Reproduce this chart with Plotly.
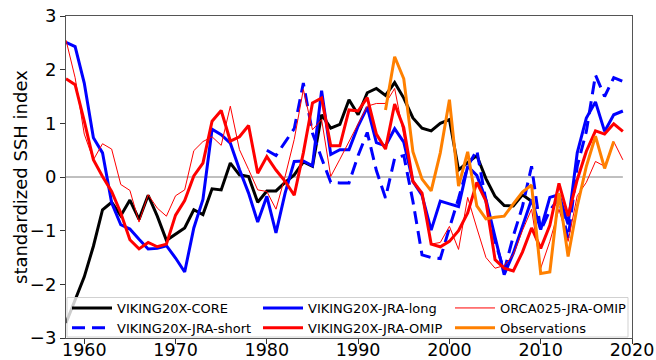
import plotly.graph_objects as go

# Annual standardized SSH index, 1958-2019
years = list(range(1958, 2020))

core_years = list(range(1958, 2010))
core = [-2.72, -2.30, -1.86, -1.29, -0.61, -0.47, -0.72, -0.43, -0.79, -0.34,
        -0.73, -1.18, -1.06, -0.95, -0.61, -0.70, -0.22, -0.24, 0.26, 0.04,
        0.01, -0.47, -0.26, -0.26, -0.10, 0.04, 0.28, 0.20, 1.16, 0.91,
        0.98, 1.44, 1.16, 1.57, 1.65, 1.52, 1.76, 1.47, 1.10, 0.91,
        0.86, 1.00, 1.07, 0.13, 0.27, 0.40, -0.03, -0.36, -0.53, -0.54,
        -0.33, -0.45]

jra_long = [2.51, 2.43, 1.75, 0.73, 0.45, -0.48, -0.89, -0.97, -1.16, -1.34,
            -1.33, -1.28, -1.51, -1.77, -0.95, -0.42, 0.89, 0.79, 0.63, 0.14,
            -0.30, -0.84, -0.36, -1.04, -0.30, 0.29, 0.30, 0.21, 1.61, 0.42,
            0.51, 0.51, 0.95, 1.30, 0.64, 0.58, 0.90, 0.65, -0.08, -0.34,
            -0.99, -0.45, -0.50, -0.55, 0.20, 0.03, -0.42, -1.10, -1.82, -1.42,
            -0.90, -0.42, -0.98, -0.38, -0.33, -0.88, 0.45, 1.10, 1.40, 0.85,
            1.16, 1.23]

short_years = list(range(1980, 2020))
jra_short = [0.50, 0.40, 0.65, 0.90, 1.75, 0.82, 0.35, -0.10, -0.11, -0.11,
             0.40, 0.83, 0.12, -0.39, 0.35, 0.40, -0.45, -1.45, -1.50, -1.52,
             -0.95, -0.40, 0.20, 0.50, -0.45, -1.20, -1.75, -1.10, -0.55, 0.20,
             -1.00, -0.62, -0.40, -1.15, 0.20, 0.85, 1.90, 1.50, 1.85, 1.78]

jra_omip = [1.83, 1.72, 1.04, 0.32, 0.01, -0.27, -0.67, -1.17, -1.34, -1.22,
            -1.30, -1.25, -0.71, -0.44, 0.02, 0.26, 1.04, 1.24, 0.67, 0.75,
            0.96, 0.07, 0.38, 0.13, -0.08, -0.34, 0.45, 1.38, 1.47, 0.58,
            0.58, 1.25, 1.23, 1.48, 0.80, 0.52, 1.36, 0.92, -0.08, -0.30,
            -1.25, -1.30, -1.20, -1.00, -0.67, -0.10, -0.45, -1.54, -1.70, -1.75,
            -1.40, -0.95, -1.33, -0.90, -0.12, -0.73, -0.05, 0.48, 0.86, 0.80,
            0.99, 0.85]

orca025 = [2.55, 1.85, 0.80, 0.32, 0.62, 0.52, -0.14, -0.25, -0.84, -0.33,
           -0.58, -0.73, -0.35, -0.24, 0.49, 0.66, 0.75, 0.59, 1.32, 0.51,
           0.14, -0.24, -0.27, -0.60, 0.01, 0.70, 1.63, 0.88, 1.07, 0.01,
           0.33, 0.66, 1.00, 1.32, 1.37, 1.37, 1.65, 0.80, -0.10, -0.30,
           -1.25, -1.22, -0.92, -1.35, -0.38, -0.95, -1.50, -1.70, -1.65, -1.45,
           -1.00, -0.60, -1.70, -1.20, -0.60, -1.20, -0.35, -0.10, 0.29, 0.20,
           0.66, 0.32]

obs_years = list(range(1993, 2019))
observations = [1.25, 2.24, 1.83, 0.47, -0.04, -0.26, 0.45, 1.44, -0.17, 0.47,
                -0.54, -0.78, -0.75, -0.73, -0.50, -0.28, -0.15, -1.80, -1.77, -0.30,
                -1.48, -0.55, 0.20, 0.76, 0.16, 0.66]

x_ticks = [1960, 1970, 1980, 1990, 2000, 2010, 2020]
y_ticks = [-3, -2, -1, 0, 1, 2, 3]

FONT = "DejaVu Sans"
W, H = 656, 360
ML, MR, MT, MB = 66, 24, 16, 22
PW, PH = W - ML - MR, H - MT - MB


def px_x(p):
    return (p - ML) / PW


def px_y(p):
    return (H - MB - p) / PH


fig = go.Figure()

# reference zero line
fig.add_trace(go.Scatter(x=years, y=[0] * len(years), mode="lines",
                         line=dict(color="gray", width=1),
                         showlegend=False, hoverinfo="skip"))

series = [
    ("VIKING20X-CORE", core_years, core, dict(color="black", width=3), "legend"),
    ("VIKING20X-JRA-short", short_years, jra_short,
     dict(color="blue", width=3, dash="13px,7px"), "legend"),
    ("VIKING20X-JRA-long", years, jra_long, dict(color="blue", width=3), "legend2"),
    ("VIKING20X-JRA-OMIP", years, jra_omip, dict(color="red", width=3), "legend2"),
    ("ORCA025-JRA-OMIP", years, orca025, dict(color="red", width=1), "legend3"),
    ("Observations", obs_years, observations, dict(color="#ff8000", width=3), "legend3"),
]
for name, xs, ys, line, leg in series:
    fig.add_trace(go.Scatter(x=xs, y=ys, mode="lines", name=name,
                             line=line, legend=leg))

# legend frame shared by the three legend columns
fig.add_shape(type="rect", xref="paper", yref="paper", layer="above",
              x0=px_x(67), x1=px_x(628), y0=px_y(337), y1=px_y(297.5),
              fillcolor="rgba(255,255,255,0.8)",
              line=dict(color="rgba(204,204,204,0.9)", width=1))

# y-axis label
fig.add_annotation(text="standardized SSH index", textangle=-90,
                   xref="paper", yref="paper", x=px_x(20), y=px_y(177),
                   xanchor="center", yanchor="middle", showarrow=False,
                   font=dict(family=FONT, size=18, color="black"))

leg_common = dict(orientation="v", bgcolor="rgba(0,0,0,0)", borderwidth=0,
                  font=dict(family=FONT, size=13, color="black"),
                  xanchor="left", yanchor="top", tracegroupgap=0,
                  itemwidth=40)

axis_common = dict(showline=True, linecolor="#555", linewidth=1, mirror=True,
                   ticks="outside", ticklen=5, tickcolor="#333", tickwidth=1,
                   showgrid=False, zeroline=False, automargin=False)

fig.update_layout(
    width=W, height=H,
    margin=dict(l=ML, r=MR, t=MT, b=MB, autoexpand=False),
    paper_bgcolor="white", plot_bgcolor="white",
    font=dict(family=FONT, color="black"),
    xaxis=dict(range=[1958, 2020], tickvals=x_ticks, ticklabelstandoff=-9,
               tickfont=dict(family=FONT, size=17.5, color="black"),
               **axis_common),
    yaxis=dict(range=[-3, 3], tickvals=y_ticks,
               tickfont=dict(family=FONT, size=18, color="black"),
               **axis_common),
    legend=dict(x=px_x(67), y=px_y(293), **leg_common),
    legend2=dict(x=px_x(258), y=px_y(293), **leg_common),
    legend3=dict(x=px_x(450), y=px_y(293), **leg_common),
)

fig.write_html("out.html")
